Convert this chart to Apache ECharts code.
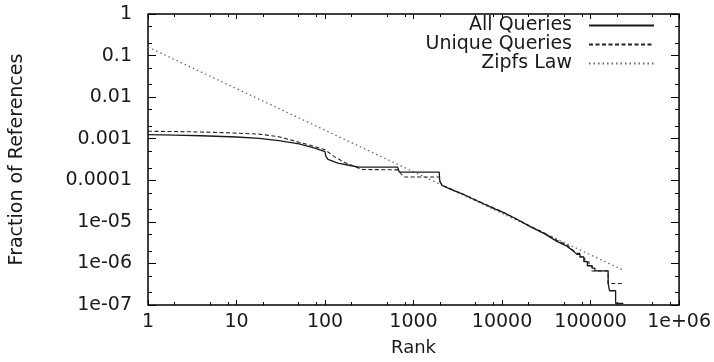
<!DOCTYPE html>
<html>
<head>
<meta charset="utf-8">
<script src="https://cdn.jsdelivr.net/npm/echarts@6/dist/echarts.min.js"></script>
<style>
  html, body { margin: 0; padding: 0; background: #fff; }
  #chart { width: 714px; height: 362px; }
</style>
</head>
<body>
<div id="chart"></div>
<script>
// rank / fraction pairs
const allQueriesRank = [1, 2, 4, 7, 10, 18, 30, 51, 75, 100, 102, 108, 140, 186, 240, 660, 690, 1950, 1980, 2100, 2500, 2950, 3500, 4500, 6000, 8000, 10000, 14000, 20800, 30000, 41700, 54000, 64500, 70000, 76000, 76000, 84000, 84000, 92000, 92000, 104000, 104000, 112000, 112000, 158000, 158000, 164000, 164000, 192000, 192000, 235000];
const allQueriesFrac = [1.25e-3, 1.22e-3, 1.18e-3, 1.13e-3, 1.10e-3, 1.02e-3, 9.0e-4, 7.5e-4, 6.0e-4, 4.9e-4, 3.8e-4, 3.2e-4, 2.6e-4, 2.3e-4, 2.08e-4, 2.08e-4, 1.58e-4, 1.58e-4, 9.5e-5, 7.5e-5, 6.4e-5, 5.5e-5, 4.8e-5, 3.7e-5, 2.8e-5, 2.1e-5, 1.74e-5, 1.22e-5, 7.7e-6, 5.2e-6, 3.4e-6, 2.6e-6, 1.95e-6, 1.65e-6, 1.65e-6, 1.43e-6, 1.43e-6, 1.1e-6, 1.1e-6, 8.8e-7, 8.8e-7, 7.7e-7, 7.7e-7, 6.6e-7, 6.6e-7, 3.3e-7, 3.3e-7, 2.2e-7, 2.2e-7, 1.1e-7, 1.1e-7];

const uniqueQueriesRank = [1, 2, 4, 7, 10, 18, 30, 51, 75, 100, 130, 170, 260, 660, 780, 1950, 2000, 2100, 2950, 4500, 6000, 10000, 20800, 30000, 41700, 54000, 64500, 70000, 76000, 76000, 86000, 86000, 96000, 96000, 104000, 104000, 158000, 158000, 232000];
const uniqueQueriesFrac = [1.51e-3, 1.49e-3, 1.45e-3, 1.40e-3, 1.36e-3, 1.29e-3, 1.12e-3, 8.2e-4, 6.6e-4, 5.4e-4, 3.6e-4, 2.63e-4, 1.82e-4, 1.78e-4, 1.2e-4, 1.2e-4, 9.0e-5, 7.6e-5, 5.6e-5, 3.8e-5, 2.85e-5, 1.76e-5, 7.9e-6, 5.4e-6, 3.6e-6, 2.8e-6, 2.0e-6, 1.75e-6, 1.75e-6, 1.43e-6, 1.43e-6, 1.1e-6, 1.1e-6, 8.8e-7, 8.8e-7, 6.6e-7, 6.6e-7, 3.3e-7, 3.3e-7];

const zipfRank = [1, 240000];
const zipfFrac = [0.16, 6.7e-7];

const xTicks = [1, 10, 100, 1000, 10000, 100000, 1000000];
const xTickLabels = ['1', '10', '100', '1000', '10000', '100000', '1e+06'];
const yTicks = [1e-7, 1e-6, 1e-5, 1e-4, 1e-3, 1e-2, 1e-1, 1];
const yTickLabels = ['1e-07', '1e-06', '1e-05', '0.0001', '0.001', '0.01', '0.1', '1'];
const xMinorTicks = [2, 5, 8, 20, 50, 80, 200, 500, 800, 2000, 5000, 8000, 20000, 50000, 80000, 200000, 500000, 800000];
const yMinorTicks = [2e-7, 5e-7, 2e-6, 5e-6, 2e-5, 5e-5, 2e-4, 5e-4, 2e-3, 5e-3, 2e-2, 5e-2, 0.2, 0.5];

const zip = (a, b) => a.map((v, i) => [v, b[i]]);
const pick = (ticks, labels) => (v) => {
    const i = ticks.findIndex(t => Math.abs(Math.log10(t) - Math.log10(v)) < 1e-6);
    return i >= 0 ? labels[i] : '';
};

const font = 'DejaVu Sans';
const textColor = '#1a1a1a';

// one log axis; the extra copies only carry ticks for the mirrored / minor marks
const xAxisOf = (position, ticks, len, withLabels) => ({
    type: 'log', logBase: 10, min: 1, max: 1000000, position,
    axisLine: { show: false },
    splitLine: { show: false },
    axisTick: { show: true, inside: true, length: len, customValues: ticks, lineStyle: { color: '#000', width: 1 } },
    axisLabel: withLabels ? {
        show: true, customValues: xTicks, formatter: pick(xTicks, xTickLabels),
        margin: 8, fontFamily: font, fontSize: 19, color: textColor
    } : { show: false }
});
const yAxisOf = (position, ticks, len, withLabels) => ({
    type: 'log', logBase: 10, min: 1e-7, max: 1, position,
    axisLine: { show: false },
    splitLine: { show: false },
    axisTick: { show: true, inside: true, length: len, customValues: ticks, lineStyle: { color: '#000', width: 1 } },
    axisLabel: withLabels ? {
        show: true, customValues: yTicks, formatter: pick(yTicks, yTickLabels),
        margin: 16, fontFamily: font, fontSize: 19, color: textColor
    } : { show: false }
});

const chart = echarts.init(document.getElementById('chart'));

const xMain = xAxisOf('bottom', xTicks, 5, true);
xMain.name = 'Rank';
xMain.nameLocation = 'middle';
xMain.nameGap = 34;
xMain.nameTextStyle = { fontFamily: font, fontSize: 18, color: textColor };

const yMain = yAxisOf('left', yTicks, 8, true);
yMain.name = 'Fraction of References';
yMain.nameLocation = 'middle';
yMain.nameGap = 121;
yMain.nameTextStyle = { fontFamily: font, fontSize: 19, color: textColor };

chart.setOption({
    animation: false,
    backgroundColor: '#fff',
    grid: {
        left: 147, right: 31, top: 14, bottom: 55,
        show: true, borderColor: '#000', borderWidth: 1.5, backgroundColor: 'transparent'
    },
    legend: {
        data: ['All Queries', 'Unique Queries', 'Zipfs Law'],
        orient: 'vertical',
        right: 54,
        top: 11,
        align: 'right',
        itemWidth: 65,
        itemHeight: 12,
        itemGap: 0,
        itemStyle: { opacity: 0 },
        textStyle: { fontFamily: font, fontSize: 19, color: textColor, padding: [0, 12, 0, 0] }
    },
    xAxis: [
        xMain,
        xAxisOf('top', xTicks, 5, false),
        xAxisOf('bottom', xMinorTicks, 3, false),
        xAxisOf('top', xMinorTicks, 3, false)
    ],
    yAxis: [
        yMain,
        yAxisOf('right', yTicks, 8, false),
        yAxisOf('left', yMinorTicks, 4, false),
        yAxisOf('right', yMinorTicks, 4, false)
    ],
    series: [
        {
            name: 'Zipfs Law', type: 'line', symbol: 'none',
            data: zip(zipfRank, zipfFrac),
            lineStyle: { color: '#6a6a6a', width: 1.3, type: [1.5, 3] },
            itemStyle: { color: '#6a6a6a' }
        },
        {
            name: 'Unique Queries', type: 'line', symbol: 'none',
            data: zip(uniqueQueriesRank, uniqueQueriesFrac),
            lineStyle: { color: '#222', width: 1.1, type: [4, 2.5] },
            itemStyle: { color: '#222' }
        },
        {
            name: 'All Queries', type: 'line', symbol: 'none',
            data: zip(allQueriesRank, allQueriesFrac),
            lineStyle: { color: '#1a1a1a', width: 1.3, type: 'solid' },
            itemStyle: { color: '#1a1a1a' }
        }
    ]
});
</script>
</body>
</html>
